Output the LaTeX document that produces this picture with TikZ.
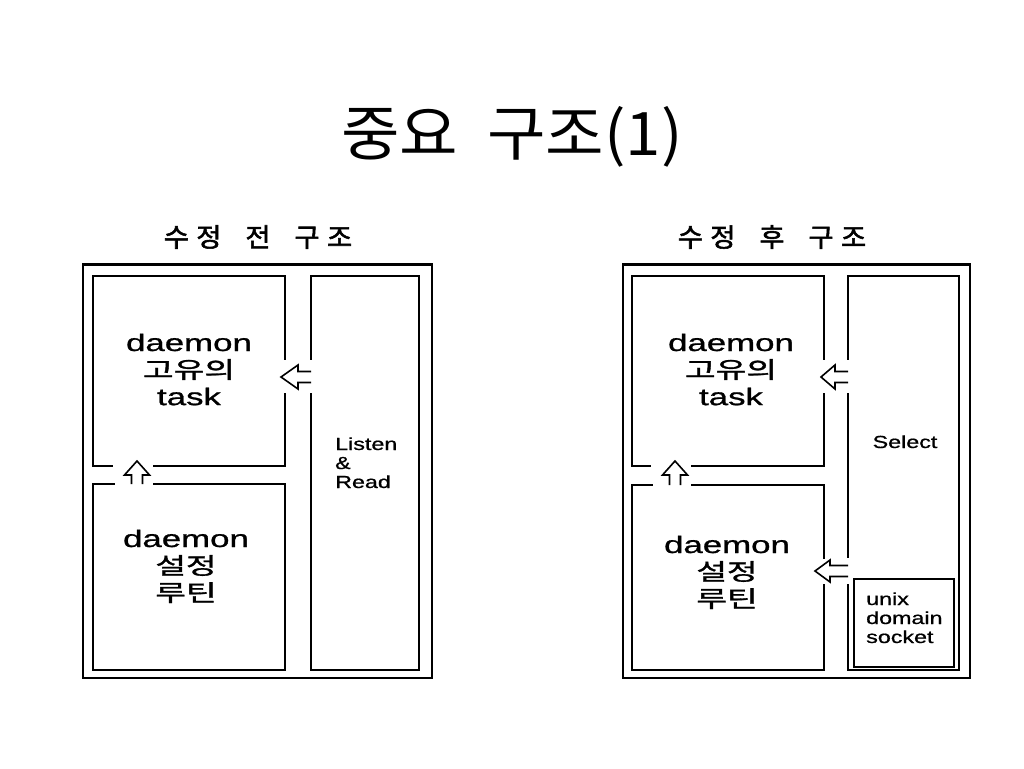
\documentclass[tikz,border=0pt]{standalone}
\usepackage{graphicx}
\usepackage{fontspec}
\setmainfont[FakeBold=0.8]{Liberation Sans}
\newfontfamily\kr{Noto Sans CJK KR}
\newfontfamily\krb[FakeBold=1.2]{Noto Sans CJK KR}
\newfontfamily\krsub[FakeBold=2]{Noto Sans CJK KR}
\usetikzlibrary{calc}
\newcommand\xs[2]{\scalebox{#1}[1]{#2}}
\newcommand\krs[1]{{\krb\fontsize{23}{27}\selectfont #1}}
\begin{document}
\begin{tikzpicture}[x=1pt,y=-1pt,
  box/.style={draw=black, line width=2.6pt, inner sep=0pt, outer sep=0pt},
  frame/.style={box, line width=2.4pt},
  gapfill/.style={fill=white, draw=none},
  barrow/.style={draw=black, line width=1.6pt, fill=white, line join=miter},
  bigtxt/.style={inner sep=0pt, anchor=base, font=\fontsize{24}{27}\selectfont},
  smalltxt/.style={inner sep=0pt, anchor=base west, font=\fontsize{17.5}{19}\selectfont},
  subtitle/.style={inner sep=0pt, font=\krsub\fontsize{26}{28}\selectfont}]
\useasboundingbox (0,0) rectangle (1024,768);
\fill[white] (0,0) rectangle (1024,768);

% title
\node[inner sep=0pt, font=\kr\fontsize{60}{66}\selectfont] (title) at (512,137) {\xs{1.06}{중요 \hspace{14pt}구조(1)}};
\node[subtitle] (sub1) at (258,237) {\xs{1.05}{수\hspace{7pt}정 \hspace{17pt}전 \hspace{17pt}구\hspace{7pt}조}};
\node[subtitle] (sub2) at (772,237) {\xs{1.05}{수\hspace{7pt}정 \hspace{17pt}후 \hspace{17pt}구\hspace{7pt}조}};

% left panel
\node[frame, minimum width=349pt, minimum height=413.5pt] (OL) at (257.5,471.25) {};
\node[box, minimum width=192pt, minimum height=190pt] (L1) at (189,371) {};
\node[box, minimum width=192pt, minimum height=186pt] (L2) at (189,577) {};
\node[box, minimum width=108pt, minimum height=394pt] (L3) at (365,473) {};

% right panel
\node[frame, minimum width=347pt, minimum height=413.5pt] (OR) at (796.5,471.25) {};
\node[box, minimum width=192pt, minimum height=190pt] (R1) at (728,371) {};
\node[box, minimum width=192pt, minimum height=185pt] (R2) at (728,577.5) {};
\node[box, minimum width=111pt, minimum height=394pt] (R3) at (903.5,473) {};
\node[box, minimum width=100pt, minimum height=88pt] (R4) at (904,623) {};

% gaps in the box lines where arrows cross
\fill[gapfill] (279,360) rectangle (291,393);
\fill[gapfill] (305,360) rectangle (317,393);
\fill[gapfill] (113,460) rectangle (153,471);
\fill[gapfill] (115,478) rectangle (153,490);
\fill[gapfill] (818,360) rectangle (830,393);
\fill[gapfill] (842,360) rectangle (854,393);
\fill[gapfill] (651,460) rectangle (691,471);
\fill[gapfill] (653,479) rectangle (691,491);
\fill[gapfill] (818,559) rectangle (830,584);
\fill[gapfill] (842,558) rectangle (852,584);

% arrows (hollow block arrows)
\draw[barrow] (L3.west |- 0,371.5) -- (298,371.5) -- (298,365) -- (281,377) -- (298,389) -- (298,382.5) -- (L3.west |- 0,382.5);
\draw[barrow] (131.5,0 |- L2.north) -- (131.5,475) -- (124.5,475) -- (137,461) -- (149.5,475) -- (142.5,475) -- (142.5,0 |- L2.north);
\draw[barrow] (R3.west |- 0,371.5) -- (835,371.5) -- (835,365) -- (821,377) -- (835,389) -- (835,382.5) -- (R3.west |- 0,382.5);
\draw[barrow] (669.5,0 |- R2.north) -- (669.5,475) -- (662.5,475) -- (675,461) -- (687.5,475) -- (680.5,475) -- (680.5,0 |- R2.north);
\draw[barrow] (R3.west |- 0,565.5) -- (830,565.5) -- (830,560) -- (815,571) -- (830,582) -- (830,576.5) -- (R3.west |- 0,576.5);

% texts
\node[bigtxt] (tL1) at (189,351) {\xs{1.45}{\begin{tabular}[t]{@{}c@{}}daemon\\\krs{고유의}\\task\end{tabular}}};
\node[bigtxt] (tL2) at (186,547) {\xs{1.45}{\begin{tabular}[t]{@{}c@{}}daemon\\\krs{설정}\\\krs{루틴}\end{tabular}}};
\node[smalltxt] (tL3) at (335,450) {\xs{1.33}{\begin{tabular}[t]{@{}l@{}}Listen\\\&\\Read\end{tabular}}};

\node[bigtxt] (tR1) at (731,351) {\xs{1.45}{\begin{tabular}[t]{@{}c@{}}daemon\\\krs{고유의}\\task\end{tabular}}};
\node[bigtxt] (tR2) at (727,553) {\xs{1.45}{\begin{tabular}[t]{@{}c@{}}daemon\\\krs{설정}\\\krs{루틴}\end{tabular}}};
\node[inner sep=0pt, anchor=base, font=\fontsize{17.5}{19}\selectfont] (tR3) at (905,448) {\xs{1.33}{Select}};
\node[smalltxt] (tR4) at (866,605) {\xs{1.33}{\begin{tabular}[t]{@{}l@{}}unix\\domain\\socket\end{tabular}}};
\end{tikzpicture}
\end{document}
